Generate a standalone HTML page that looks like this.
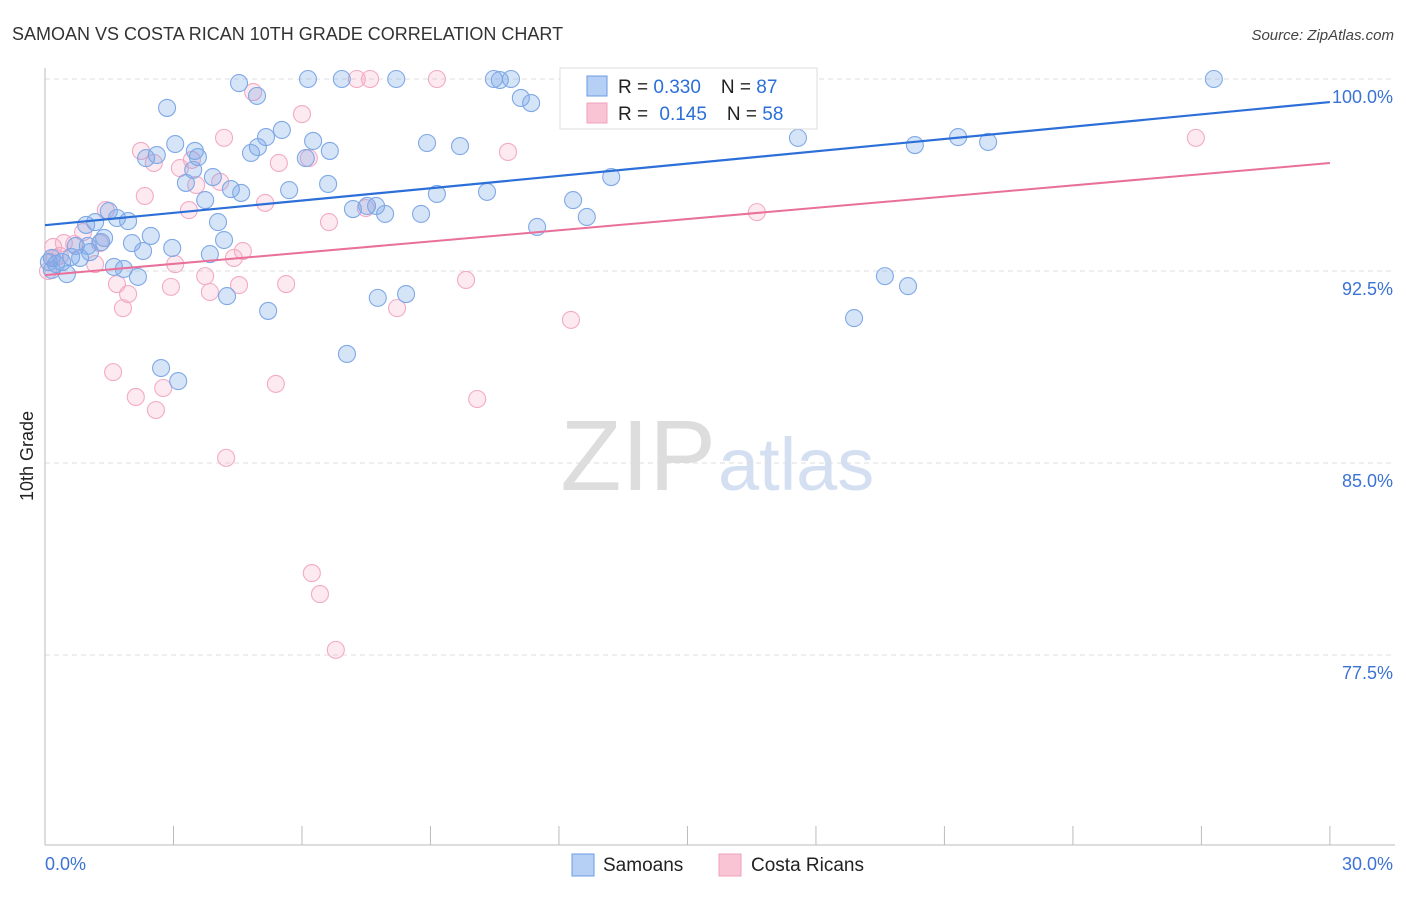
<!DOCTYPE html>
<html><head><meta charset="utf-8"><style>
body{margin:0;background:#fff;font-family:"Liberation Sans",sans-serif;}
svg text{font-family:"Liberation Sans",sans-serif;}
</style></head><body>
<svg id="chart" width="1406" height="892" xmlns="http://www.w3.org/2000/svg">
<text x="12" y="40" font-size="18" fill="#333">SAMOAN VS COSTA RICAN 10TH GRADE CORRELATION CHART</text>
<text x="1394" y="40" font-size="15" fill="#444" font-style="italic" text-anchor="end">Source: ZipAtlas.com</text>
<text x="716" y="490" font-size="100" fill="#ddd" text-anchor="end" font-family="Liberation Serif">ZIP</text>
<text x="718" y="490" font-size="74" fill="#d4e0f2">atlas</text>
<text transform="translate(33,456) rotate(-90)" font-size="18" fill="#222" text-anchor="middle">10th Grade</text>
<g id="grid"></g><g id="axes"></g><g id="pts"></g><g id="trend"></g>
<g>
<rect x="560" y="68" width="257" height="61" fill="#fff" stroke="#ddd"/>
<rect x="587" y="76" width="20" height="20" fill="#b6cff5" stroke="#6a9be0"/>
<rect x="587" y="103" width="20" height="20" fill="#f9c4d4" stroke="#f0a0bc"/>
<text x="618" y="93" font-size="19" fill="#222">R = <tspan fill="#2c6fd8">0.330</tspan><tspan dx="20">N = </tspan><tspan fill="#2c6fd8">87</tspan></text>
<text x="618" y="120" font-size="19" fill="#222">R = <tspan dx="6" fill="#2c6fd8">0.145</tspan><tspan dx="20">N = </tspan><tspan fill="#2c6fd8">58</tspan></text>
</g>
<g>
<rect x="572" y="854" width="22" height="22" fill="#b6cff5" stroke="#6a9be0"/>
<text x="603" y="871" font-size="19" fill="#222">Samoans</text>
<rect x="719" y="854" width="22" height="22" fill="#f9c4d4" stroke="#f0a0bc"/>
<text x="751" y="871" font-size="19" fill="#222">Costa Ricans</text>
</g>
</svg>
<script>
const yTicks=[100,92.5,85,77.5];
const yTickLabels=["100.0%","92.5%","85.0%","77.5%"];
const xTickLabels=["0.0%","30.0%"];
const samoanX=[2.85,4.53,4.95,6.14,6.93,8.20,10.48,10.88,10.62,11.11,11.35,13.99,14.97,27.29,3.04,3.50,3.57,2.36,2.61,5.16,5.53,4.97,4.81,6.26,6.65,6.09,8.92,9.69,3.29,3.46,3.92,3.74,4.34,4.58,5.70,6.61,9.15,10.32,7.19,7.52,7.73,7.94,8.78,12.33,12.65,13.22,11.49,17.58,20.31,21.32,22.02,1.49,1.17,0.96,1.68,1.94,2.47,2.03,2.29,1.38,1.31,1.00,0.72,1.05,0.61,0.40,0.26,0.16,0.09,0.16,0.51,0.82,1.61,1.84,2.17,2.97,3.85,4.04,4.18,4.25,5.21,7.77,8.43,2.71,3.11,7.05,18.89,19.61,20.15];
const samoanY=[98.87,99.84,99.34,100,100,100,100,100,99.96,99.26,99.06,100,100,100,97.46,97.19,96.95,96.91,97.03,97.73,98.01,97.34,97.11,97.58,97.19,96.91,97.50,97.38,95.94,96.45,96.17,95.27,95.70,95.55,95.66,95.90,95.51,95.59,94.92,95.04,95.04,94.73,94.73,95.27,94.61,96.17,94.22,97.70,97.42,97.73,97.54,94.84,94.41,94.30,94.57,94.45,93.87,93.59,93.28,93.79,93.63,93.48,93.48,93.24,93.05,92.85,92.77,93.01,92.85,92.54,92.38,93.01,92.66,92.58,92.27,93.40,93.16,94.41,93.71,91.52,90.94,91.45,91.60,88.71,88.20,89.26,90.66,92.30,91.91];
const costaX=[4.86,6.00,7.28,7.59,9.15,4.18,2.24,2.54,3.43,3.15,3.53,2.33,1.42,3.36,5.14,6.63,7.49,0.89,1.28,0.68,0.44,0.19,0.23,0.35,0.07,1.17,3.04,3.74,4.41,4.62,1.68,1.94,2.94,3.85,4.53,5.63,1.82,8.22,9.83,12.28,1.59,2.12,2.59,2.76,5.39,10.09,4.23,6.23,6.42,6.79,10.81,16.62,26.87,6.16,5.46,4.09];
const costaY=[99.49,98.63,100,100,100,97.70,97.19,96.72,96.84,96.52,95.86,95.43,94.88,94.88,95.16,94.41,94.96,94.02,93.59,93.55,93.59,93.44,93.01,93.09,92.50,92.77,92.77,92.30,93.01,93.28,91.99,91.60,91.88,91.68,91.95,91.99,91.05,91.05,92.15,90.59,88.55,87.58,87.07,87.93,88.09,87.50,85.20,80.70,79.88,77.70,97.15,94.80,97.70,96.91,96.72,95.98];
const samoanTrend=[94.29,99.10];
const costaTrend=[92.34,96.72];
const NS="http://www.w3.org/2000/svg";
const xs=v=>45+v*42.83, ys=v=>79+(100-v)*25.6;
function mk(tag,parent,attrs){const e=document.createElementNS(NS,tag);for(const k in attrs)e.setAttribute(k,attrs[k]);document.getElementById(parent).appendChild(e);return e;}
yTicks.forEach((t,i)=>{
 let g=mk('line','grid',{x1:45,x2:1395,y1:ys(t),y2:ys(t),stroke:'#ddd','stroke-dasharray':'5,4'});
 
 
 let l=mk('text','grid',{x:1393,y:ys(t)+24,'font-size':18,fill:'#3b73d4','text-anchor':'end'});l.textContent=yTickLabels[i];
 
 
});
let ax=mk('line','axes',{x1:45,x2:45,y1:68,y2:845,stroke:'#bbb'});


let bx=mk('line','axes',{x1:45,x2:1395,y1:845,y2:845,stroke:'#bbb'});


for(let i=0;i<=10;i++){let t=mk('line','axes',{x1:xs(i*3),x2:xs(i*3),y1:826,y2:845,stroke:'#bbb'});
 
 }
[[0,'start',45],[30,'end',1393]].forEach((a,i)=>{let t=mk('text','axes',{x:a[2],y:870,'font-size':18,fill:'#3b73d4','text-anchor':a[1]});t.textContent=xTickLabels[i];
 
 });
function pts(X,Y,fill,stroke,name){X.forEach((x,i)=>{let c=mk('circle','pts',{cx:xs(x),cy:ys(Y[i]),r:8.5,fill:fill,stroke:stroke,'stroke-width':1.1});
 
 });}
pts(costaX,costaY,'rgba(244,170,195,0.25)','#f3aac4','costa-rican-point');
pts(samoanX,samoanY,'rgba(120,165,232,0.3)','#7fa9e6','samoan-point');
let t1=mk('line','trend',{x1:xs(0),x2:xs(30),y1:ys(samoanTrend[0]),y2:ys(samoanTrend[1]),stroke:'#2c6fd8','stroke-width':2.2});


let t2=mk('line','trend',{x1:xs(0),x2:xs(30),y1:ys(costaTrend[0]),y2:ys(costaTrend[1]),stroke:'#e8709a','stroke-width':2});


</script>
</body></html>
